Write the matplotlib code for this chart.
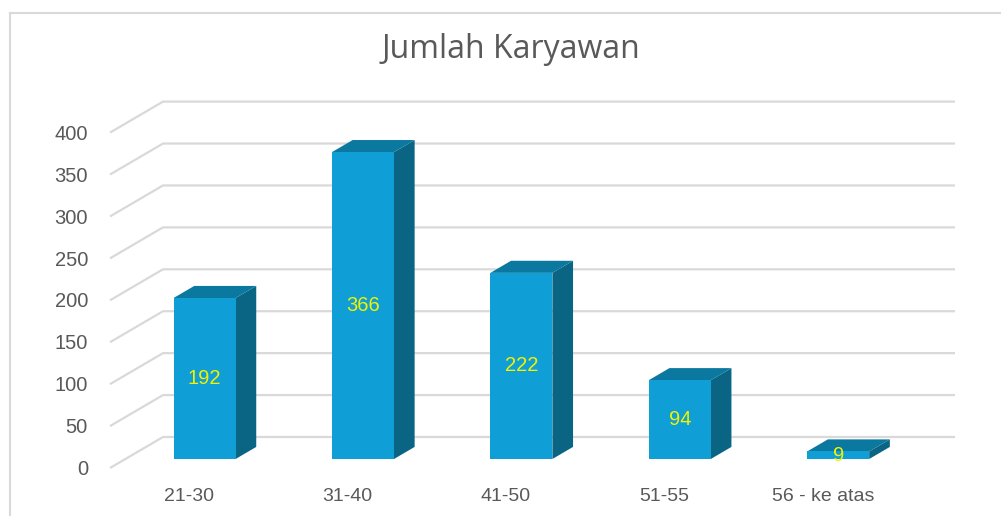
import matplotlib
matplotlib.use("Agg")
import matplotlib.pyplot as plt
from matplotlib.patches import Polygon, Rectangle
from matplotlib.lines import Line2D

# ---- data ----
categories = ["21-30", "31-40", "41-50", "51-55", "56 - ke atas"]
values = [192, 366, 222, 94, 9]
y_ticks = [0, 50, 100, 150, 200, 250, 300, 350, 400]
title = "Jumlah Karyawan"

# ---- styling ----
FRONT = "#0F9ED5"
SIDE = "#0A6584"
TOP = "#0B78A0"
GRID = "#D9D9D9"
TXT = "#595959"
LBL = "#F2F200"

W, H, DPI = 1001, 516, 100
fig = plt.figure(figsize=(W / DPI, H / DPI), dpi=DPI)
ax = fig.add_axes([0, 0, 1, 1])
ax.set_axis_off()

# pixel mapping of the front plane (origin & scale) -> data limits
x0_px, slot_px = 110.0, 158.4
y0_px, unit_px = 48.0, 0.8385
ax.set_xlim(-x0_px / slot_px, (W - x0_px) / slot_px)
ax.set_ylim(-y0_px / unit_px, (H - y0_px) / unit_px)

# oblique depth vector (data units)
DX = 53.0 / slot_px
DY = 31.0 / unit_px
n = len(categories)

# gridlines: floor diagonals + back wall
for t in y_ticks:
    ax.add_line(Line2D([0, DX, DX + n], [t, t + DY, t + DY],
                       color=GRID, lw=1.6, zorder=1, solid_capstyle="butt"))
    ax.text(-22.0 / slot_px, t - 2.0, str(t), ha="right", va="center",
            fontsize=14.5, color=TXT, family="Liberation Sans")

# bars
bw = 62.0 / slot_px
f0 = 0.29    # front face depth fraction
fd = 0.39    # bar depth fraction
for i, (c, v) in enumerate(zip(categories, values)):
    cx = i + 0.5 + f0 * DX
    by = f0 * DY
    xl, xr = cx - bw / 2, cx + bw / 2
    ddx, ddy = fd * DX, fd * DY
    top = by + v
    z = 3 + i
    # side
    ax.add_patch(Polygon([(xr, by), (xr + ddx, by + ddy), (xr + ddx, top + ddy), (xr, top)],
                         closed=True, facecolor=SIDE, edgecolor="none", zorder=z))
    # top
    ax.add_patch(Polygon([(xl, top), (xr, top), (xr + ddx, top + ddy), (xl + ddx, top + ddy)],
                         closed=True, facecolor=TOP, edgecolor="none", zorder=z))
    # front
    ax.add_patch(Rectangle((xl, by), bw, v, facecolor=FRONT, edgecolor="none", zorder=z + 0.1))
    ax.text(cx, by + v / 2, str(v), ha="center", va="center", fontsize=14.5,
            color=LBL, family="Liberation Sans", zorder=20)
    # category label
    ax.text(i + 0.5, -34, c, ha="center", va="center", fontsize=14,
            color=TXT, family="Liberation Sans")

# title
fig.text(511 / W, 1 - 50 / H, title, ha="center", va="center", fontsize=23,
         color=TXT, family="Open Sans")

# chart border (left & top)
fig.add_artist(Line2D([10 / W, 10 / W], [0, 1 - 13 / H], transform=fig.transFigure,
                      color="#D9D9D9", lw=1.5))
fig.add_artist(Line2D([10 / W, 1], [1 - 13 / H, 1 - 13 / H], transform=fig.transFigure,
                      color="#D9D9D9", lw=1.5))

fig.savefig("out.png", dpi=DPI)
